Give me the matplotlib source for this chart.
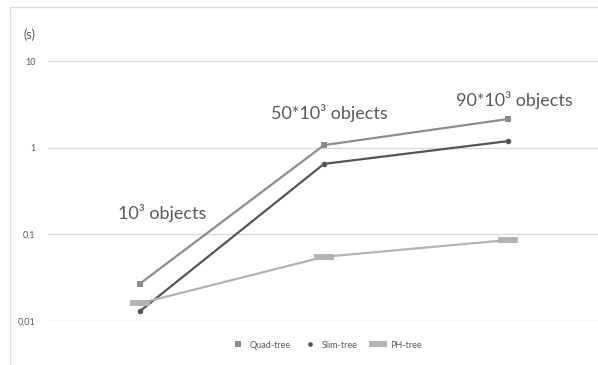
"""Query time per tree structure for growing object counts (log scale)."""

import matplotlib

matplotlib.use("Agg")

import matplotlib.pyplot as plt
from matplotlib.lines import Line2D
from matplotlib.patches import Rectangle
from matplotlib.path import Path

plt.rcParams["font.family"] = ["Lato", "DejaVu Sans"]

categories = ["1k", "50k", "90k"]
quad_tree = [0.027, 1.07, 2.14]
slim_tree = [0.013, 0.65, 1.19]
ph_tree = [0.016, 0.055, 0.086]

y_ticks = [0.01, 0.1, 1, 10]
y_tick_labels = ["0,01", "0,1", "1", "10"]

# label text, category position, value
annotations = [
    ("10³ objects", -0.12, 0.176),
    ("50*10³ objects", 0.71, 2.5),
    ("90*10³ objects", 1.72, 3.54),
]

TEXT = "#595959"
GRID = "#d9d9d9"

# flat wide bar marker for the PH-tree series
wide_bar = Path([(-1.3, -0.45), (1.3, -0.45), (1.3, 0.45), (-1.3, 0.45), (-1.3, -0.45)],
                [Path.MOVETO, Path.LINETO, Path.LINETO, Path.LINETO, Path.CLOSEPOLY])

series = [
    ("Quad-tree", quad_tree, "#8c8c8c", "s", 4.6),
    ("Slim-tree", slim_tree, "#555555", "o", 4.0),
    ("PH-tree", ph_tree, "#b3b3b3", wide_bar, 14.5),
]

fig = plt.figure(figsize=(5.98, 3.65), dpi=100)
fig.patches.append(Rectangle((10 / 598, -0.1), 1.2, 1 - 7 / 365 + 0.1,
                             transform=fig.transFigure, fill=False,
                             edgecolor="#d9d9d9", linewidth=1.0))

ax = fig.add_axes([48 / 598, 1 - 321 / 365, 552 / 598, 260 / 365])
x = list(range(len(categories)))

for name, vals, color, marker, ms in series:
    ax.plot(x, vals, color=color, linewidth=1.6, marker=marker, markersize=ms,
            markeredgewidth=0, solid_capstyle="round", zorder=3)

for label, xp, yp in annotations:
    ax.text(xp, yp, label, ha="left", va="center", fontsize=13, color=TEXT)

ax.set_yscale("log")
ax.set_ylim(0.01, 10)
ax.set_xlim(-0.5, 2.5)
ax.set_yticks(y_ticks)
ax.set_yticklabels(y_tick_labels)
ax.minorticks_off()
ax.set_xticks([])
ax.tick_params(axis="y", length=0, pad=9, labelsize=6.5, labelcolor=TEXT)
ax.grid(axis="y", color=GRID, linewidth=1.0)
ax.set_axisbelow(True)
for side in ax.spines.values():
    side.set_visible(False)

fig.text(24 / 598, 1 - 35 / 365, "(s)", fontsize=9, color=TEXT, ha="left", va="center")

handles = [Line2D([], [], linestyle="none", color=c, marker=m, markersize=ms * 0.85,
                  markeredgewidth=0, label=n)
           for n, _, c, m, ms in series]
fig.legend(handles=handles, loc="center", bbox_to_anchor=(0.545, 1 - 345 / 365),
           ncol=3, frameon=False, fontsize=6.5, labelcolor=TEXT,
           handlelength=1.6, handletextpad=0.5, columnspacing=1.4)

fig.savefig("out.png", dpi=100, facecolor="white")
